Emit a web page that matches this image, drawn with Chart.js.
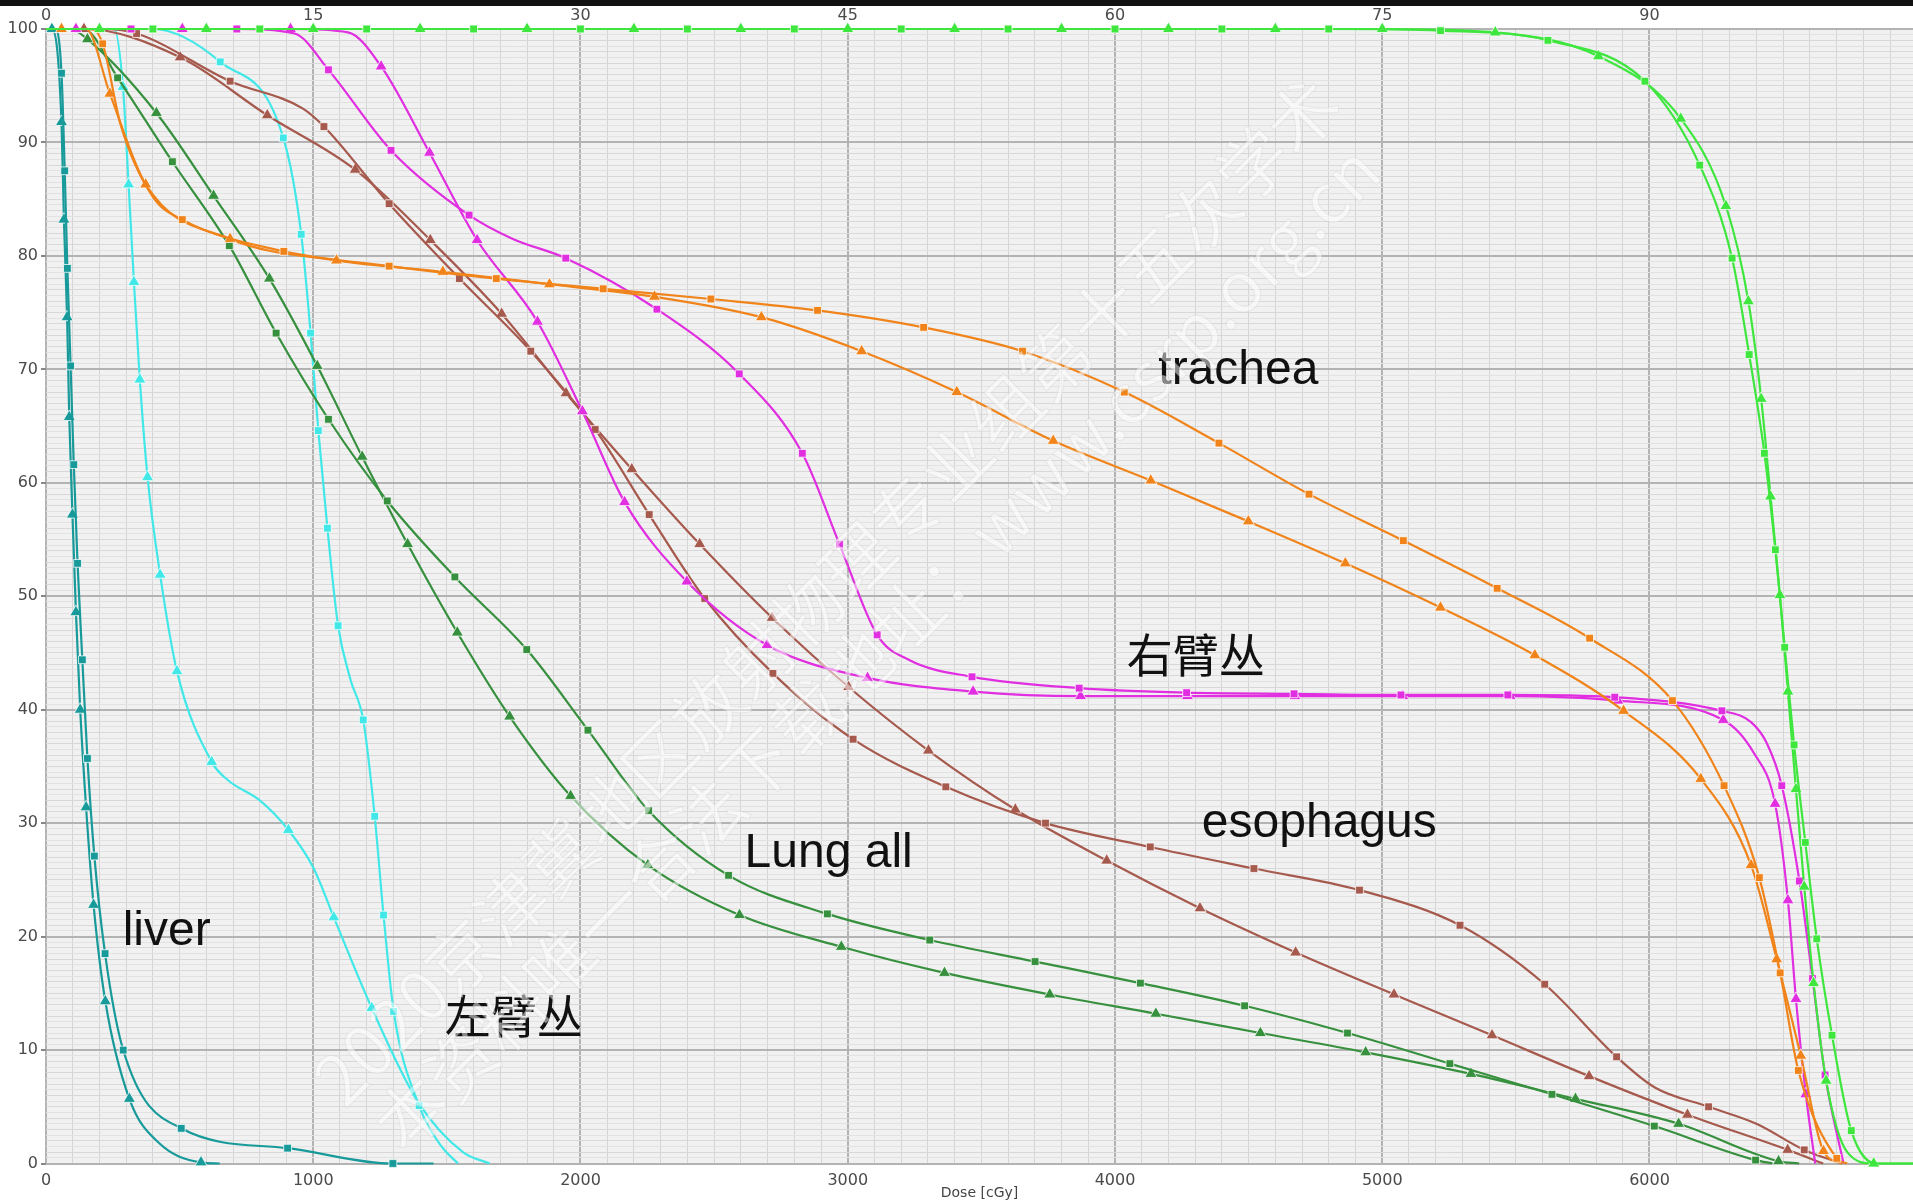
<!DOCTYPE html>
<html lang="zh">
<head>
    <meta charset="UTF-8">
    <title>DVH</title>
    <script src="https://cdn.jsdelivr.net/npm/chart.js"></script>
    <style>
        body {
            margin: 0;
            overflow: hidden;
            background-color: #ffffff;
        }
        #wrap {
            position: relative;
            width: 1913px;
            height: 1203px;
        }
        #topbar {
            position: absolute;
            left: 0;
            top: 0;
            width: 1913px;
            height: 6px;
            background-color: #111;
        }
        canvas {
            display: block;
        }
    </style>
</head>
<body>
<div id="wrap">
    <canvas id="dvh" width="1913" height="1203"></canvas>
    <div id="topbar"></div>
</div>
<script>
    // dose in cGy, volume in %. "Marks" = points that carry a marker, "Extra" = shape-only points
    const ptvSqMarks = [[400,100],[800,100],[1200,100],[1600,100],[2000,100],[2400,100],[2800,100],[3200,100],[3600,100],[4000,100],[4400,100],[4800,100],
        [5218,99.85],[5620,99.0],[5983,95.4],[6188,88.0],[6309,79.8],[6373,71.3],[6430,62.6],[6471,54.1],[6506,45.5],[6541,36.9],[6583,28.3],[6626,19.8],[6683,11.3],[6755,2.9]];
    const ptvSqExtra = [[0,100],[6850,0],[6986,0]];
    const ptvTriMarks = [[200,100],[600,100],[1000,100],[1400,100],[1800,100],[2200,100],[2600,100],[3000,100],[3400,100],[3800,100],[4200,100],[4600,100],[5000,100],
        [5423,99.7],[5809,97.6],[6117,92.1],[6286,84.4],[6370,76.0],[6418,67.4],[6453,58.8],[6488,50.1],[6518,41.6],[6548,33.0],[6579,24.4],[6614,15.9],[6661,7.3],[6839,0]];
    const ptvTriExtra = [[0,100],[6740,1.0],[6986,0]];

    const tracheaSqMarks = [[212,98.7],[510,83.2],[890,80.4],[1284,79.1],[1685,78.0],[2085,77.1],[2488,76.2],[2887,75.2],[3284,73.7],[3654,71.6],[4035,68.0],
        [4389,63.5],[4726,59.0],[5079,54.9],[5430,50.7],[5776,46.3],[6086,40.8],[6279,33.3],[6411,25.2],[6489,16.8],[6557,8.2],[6701,0.45]];
    const tracheaSqExtra = [[0,100],[170,100],[280,91.5],[400,85.2],[6740,0]];
    const tracheaTriMarks = [[58,100],[239,94.3],[373,86.3],[689,81.5],[1087,79.6],[1485,78.6],[1884,77.5],[2277,76.4],[2677,74.6],[3052,71.6],[3408,68.0],
        [3769,63.7],[4134,60.2],[4499,56.6],[4862,52.9],[5218,49.0],[5571,44.8],[5903,39.9],[6192,33.9],[6380,26.3],[6476,18.0],[6566,9.5],[6651,1.1]];
    const tracheaTriExtra = [[0,100],[150,100],[6720,0]];

    const rbpSqMarks = [[318,100],[714,100],[1057,96.4],[1291,89.3],[1583,83.6],[1945,79.8],[2286,75.3],[2594,69.6],[2830,62.6],[2969,54.6],[3110,46.6],
        [3465,42.9],[3866,41.9],[4268,41.5],[4670,41.4],[5070,41.3],[5470,41.3],[5870,41.1],[6271,39.9],[6495,33.3],[6561,24.9],[6610,16.3],[6657,7.8]];
    const rbpSqExtra = [[0,100],[930,99.6],[1747,81.5],[3228,44.4],[6380,38.9],[6440,37.0],[6726,0]];
    const rbpTriMarks = [[112,100],[510,100],[915,100],[1254,96.7],[1435,89.1],[1613,81.4],[1839,74.2],[2007,66.3],[2165,58.3],[2398,51.3],[2698,45.7],
        [3074,42.8],[3469,41.6],[3871,41.2],[4271,41.2],[4673,41.2],[5077,41.2],[5479,41.2],[5882,40.8],[6276,39.1],[6470,31.7],[6518,23.2],[6548,14.5],[6585,6.1]];
    const rbpTriExtra = [[0,100],[1130,99.7],[6390,36.2],[6620,0]];

    const esoSqMarks = [[339,99.6],[689,95.4],[1040,91.4],[1284,84.6],[1547,78.0],[1814,71.6],[2055,64.7],[2257,57.2],[2465,49.8],[2720,43.2],[3020,37.4],
        [3367,33.2],[3740,30.0],[4132,27.9],[4520,26.0],[4915,24.1],[5291,21.0],[5608,15.8],[5877,9.4],[6221,5.0],[6579,1.2]];
    const esoSqExtra = [[0,100],[200,100],[960,93.0],[6020,6.7],[6400,3.5],[6720,0]];
    const esoTriMarks = [[142,100],[502,97.5],[828,92.4],[1157,87.6],[1438,81.4],[1705,74.9],[1946,67.9],[2192,61.2],[2446,54.6],[2717,48.1],[3003,42.0],
        [3302,36.4],[3627,31.2],[3969,26.7],[4318,22.5],[4676,18.6],[5044,14.9],[5411,11.3],[5774,7.7],[6142,4.3],[6517,1.2]];
    const esoTriExtra = [[0,100],[6650,0]];

    const lungSqMarks = [[268,95.7],[473,88.3],[686,80.9],[861,73.2],[1057,65.6],[1277,58.4],[1530,51.7],[1799,45.3],[2028,38.2],[2255,31.1],[2554,25.4],
        [2924,22.0],[3307,19.7],[3701,17.8],[4095,15.9],[4485,13.9],[4870,11.5],[5253,8.8],[5635,6.1],[6018,3.3],[6397,0.3]];
    const lungSqExtra = [[0,100],[140,100],[6460,0]];
    const lungTriMarks = [[155,99.1],[413,92.6],[627,85.3],[836,78.0],[1015,70.3],[1183,62.3],[1353,54.6],[1539,46.8],[1735,39.4],[1963,32.4],[2252,26.3],
        [2595,21.9],[2976,19.1],[3362,16.8],[3756,14.9],[4153,13.2],[4544,11.5],[4938,9.8],[5332,7.9],[5723,5.7],[6109,3.5],[6483,0.2]];
    const lungTriExtra = [[0,100],[90,100],[6560,0]];

    const lbpSqMarks = [[652,97.1],[888,90.4],[955,81.9],[990,73.2],[1019,64.6],[1053,56.0],[1093,47.4],[1187,39.1],[1230,30.6],[1263,21.9],[1301,13.4],[1396,5.1]];
    const lbpSqExtra = [[0,100],[400,100],[1140,42.6],[1480,1.5],[1542,0]];
    const lbpTriMarks = [[288,94.9],[309,86.3],[329,77.7],[351,69.1],[380,60.5],[427,51.9],[490,43.4],[620,35.4],[907,29.4],[1077,21.7],[1219,13.7]];
    const lbpTriExtra = [[0,100],[255,100],[680,33.8],[800,32.0],[1000,26.1],[1390,5.5],[1560,1.0],[1660,0]];

    const liverSqMarks = [[58,96.1],[70,87.5],[80,78.9],[92,70.3],[104,61.6],[118,52.9],[136,44.4],[155,35.7],[181,27.1],[221,18.5],[289,10.0],[506,3.1],[904,1.35],[1298,0]];
    const liverSqExtra = [[0,100],[35,100],[1450,0]];
    const liverTriMarks = [[22,100],[58,91.8],[67,83.2],[79,74.6],[87,65.8],[99,57.2],[112,48.6],[128,40.0],[150,31.4],[178,22.8],[222,14.3],[312,5.7],[580,0.1]];
    const liverTriExtra = [[0,100],[423,1.8],[650,0]];

    const doseMax = 6986;
    const bottomTickLabels = ['0', '1000', '2000', '3000', '4000', '5000', '6000'];
    const topTickLabels = ['0', '15', '30', '45', '60', '75', '90'];

    const organLabels = [
        { text: 'trachea', dose: 4162, vol: 68.7, cjk: false },
        { text: '右臂丛', dose: 4044, vol: 44.9, cjk: true },
        { text: 'esophagus', dose: 4325, vol: 28.8, cjk: false },
        { text: 'Lung all', dose: 2614, vol: 26.1, cjk: false },
        { text: 'liver', dose: 287, vol: 19.3, cjk: false },
        { text: '左臂丛', dose: 1492, vol: 13.0, cjk: true }
    ];

    function points(marks, extra) {
        const a = marks.map(p => ({ x: p[0], y: p[1], mark: true }));
        const b = extra.map(p => ({ x: p[0], y: p[1], mark: false }));
        return a.concat(b).sort((p, q) => p.x - q.x || q.y - p.y);
    }

    function curve(label, color, style, marks, extra) {
        return {
            label: label,
            data: points(marks, extra),
            borderColor: color,
            backgroundColor: color,
            borderWidth: 2.2,
            pointStyle: style,
            pointRadius: c => (c.raw && c.raw.mark) ? (style === 'triangle' ? 7 : 5.5) : 0,
            pointHoverRadius: 0,
            pointBorderColor: 'rgba(255,255,255,0.75)',
            pointBorderWidth: 1,
            cubicInterpolationMode: 'monotone',
            fill: false,
            clip: 10
        };
    }

    const PTV = '#3ee63e', TRACHEA = '#f0841a', RBP = '#e02ee0', ESO = '#a65a4e',
        LUNG = '#36903d', LBP = '#42e8e8', LIVER = '#189a9a';

    const datasets = [
        curve('PTV ■', PTV, 'rect', ptvSqMarks, ptvSqExtra),
        curve('PTV ▲', PTV, 'triangle', ptvTriMarks, ptvTriExtra),
        curve('trachea ■', TRACHEA, 'rect', tracheaSqMarks, tracheaSqExtra),
        curve('trachea ▲', TRACHEA, 'triangle', tracheaTriMarks, tracheaTriExtra),
        curve('右臂丛 ■', RBP, 'rect', rbpSqMarks, rbpSqExtra),
        curve('右臂丛 ▲', RBP, 'triangle', rbpTriMarks, rbpTriExtra),
        curve('esophagus ■', ESO, 'rect', esoSqMarks, esoSqExtra),
        curve('esophagus ▲', ESO, 'triangle', esoTriMarks, esoTriExtra),
        curve('Lung all ■', LUNG, 'rect', lungSqMarks, lungSqExtra),
        curve('Lung all ▲', LUNG, 'triangle', lungTriMarks, lungTriExtra),
        curve('左臂丛 ■', LBP, 'rect', lbpSqMarks, lbpSqExtra),
        curve('左臂丛 ▲', LBP, 'triangle', lbpTriMarks, lbpTriExtra),
        curve('liver ■', LIVER, 'rect', liverSqMarks, liverSqExtra),
        curve('liver ▲', LIVER, 'triangle', liverTriMarks, liverTriExtra)
    ];

    const isMajor = (v, step) => Math.abs(v / step - Math.round(v / step)) < 1e-6;
    const tickFont = { family: 'DejaVu Sans', size: 16 };

    // light grey plotting area
    const plotBackground = {
        id: 'plotBackground',
        beforeDraw(chart) {
            const { ctx, chartArea: a } = chart;
            ctx.save();
            ctx.fillStyle = '#f1f1f1';
            ctx.fillRect(a.left, a.top, a.right - a.left, a.bottom - a.top);
            ctx.restore();
        }
    };

    const labelsAndTitle = {
        id: 'labelsAndTitle',
        afterDatasetsDraw(chart) {
            const { ctx, chartArea: a, scales: { x, y } } = chart;
            ctx.save();
            ctx.fillStyle = '#111';
            ctx.textAlign = 'left';
            organLabels.forEach(l => {
                ctx.font = l.cjk ? '46px "Noto Sans CJK SC"' : '48px "Liberation Sans"';
                ctx.textBaseline = l.cjk ? 'middle' : 'alphabetic';
                ctx.fillText(l.text, x.getPixelForValue(l.dose), y.getPixelForValue(l.vol));
            });
            ctx.font = '14px "DejaVu Sans"';
            ctx.fillStyle = '#444';
            ctx.textAlign = 'center';
            ctx.textBaseline = 'middle';
            ctx.fillText('Dose [cGy]', (a.left + a.right) / 2, a.bottom + 30);
            ctx.restore();
        },
        afterDraw(chart) {
            // faint diagonal watermark
            const ctx = chart.ctx;
            ctx.save();
            ctx.font = '70px "Noto Sans CJK SC"';
            ctx.fillStyle = 'rgba(255,255,255,0.5)';
            ctx.strokeStyle = 'rgba(190,190,190,0.25)';
            ctx.lineWidth = 1;
            ctx.translate(345, 1110);
            ctx.rotate(-Math.PI / 4);
            ctx.textBaseline = 'alphabetic';
            ctx.fillText('2020京津冀地区放射物理专业组第十五次学术', 0, 0);
            ctx.strokeText('2020京津冀地区放射物理专业组第十五次学术', 0, 0);
            ctx.fillText('本资料唯一合法下载地址：www.csrp.org.cn', 10, 75);
            ctx.strokeText('本资料唯一合法下载地址：www.csrp.org.cn', 10, 75);
            ctx.restore();
        }
    };

    new Chart(document.getElementById('dvh').getContext('2d'), {
        type: 'line',
        data: { datasets: datasets },
        options: {
            responsive: false,
            animation: false,
            layout: { padding: 0 },
            plugins: {
                legend: { display: false },
                tooltip: { enabled: false }
            },
            scales: {
                x: {
                    type: 'linear',
                    position: 'bottom',
                    min: 0,
                    max: doseMax,
                    ticks: {
                        stepSize: 100,
                        includeBounds: false,
                        autoSkip: false,
                        maxRotation: 0,
                        padding: 8,
                        color: '#4a4a4a',
                        font: tickFont,
                        callback: v => isMajor(v, 1000) ? bottomTickLabels[Math.round(v / 1000)] : ''
                    },
                    grid: {
                        drawTicks: false,
                        color: c => isMajor(c.tick.value, 1000) ? '#b3b3b3' : '#d5d5d5',
                        lineWidth: c => isMajor(c.tick.value, 1000) ? 2 : 1
                    },
                    border: { display: false },
                    afterFit: s => { s.height = 39.5; }
                },
                x2: {
                    type: 'linear',
                    position: 'top',
                    min: 0,
                    max: doseMax,
                    ticks: {
                        stepSize: 100,
                        includeBounds: false,
                        autoSkip: false,
                        maxRotation: 0,
                        padding: 4,
                        color: '#4a4a4a',
                        font: tickFont,
                        callback: v => isMajor(v, 1000) ? topTickLabels[Math.round(v / 1000)] : ''
                    },
                    grid: { display: false, drawTicks: false },
                    border: { display: false },
                    afterFit: s => { s.height = 29; }
                },
                y: {
                    type: 'linear',
                    min: 0,
                    max: 100,
                    ticks: {
                        stepSize: 0.5,
                        autoSkip: false,
                        padding: 3,
                        color: '#4a4a4a',
                        font: tickFont,
                        callback: v => isMajor(v, 10) ? String(Math.round(v)) : ''
                    },
                    grid: {
                        tickLength: 5,
                        tickColor: c => isMajor(c.tick.value, 10) ? '#888' : 'rgba(0,0,0,0)',
                        color: c => isMajor(c.tick.value, 10) ? '#b3b3b3' : (isMajor(c.tick.value, 1) ? '#d8d8d8' : '#e2e2e2'),
                        lineWidth: c => isMajor(c.tick.value, 10) ? 2 : 1
                    },
                    border: { display: false },
                    afterFit: s => { s.width = 46; }
                }
            }
        },
        plugins: [plotBackground, labelsAndTitle]
    });
</script>
</body>
</html>
